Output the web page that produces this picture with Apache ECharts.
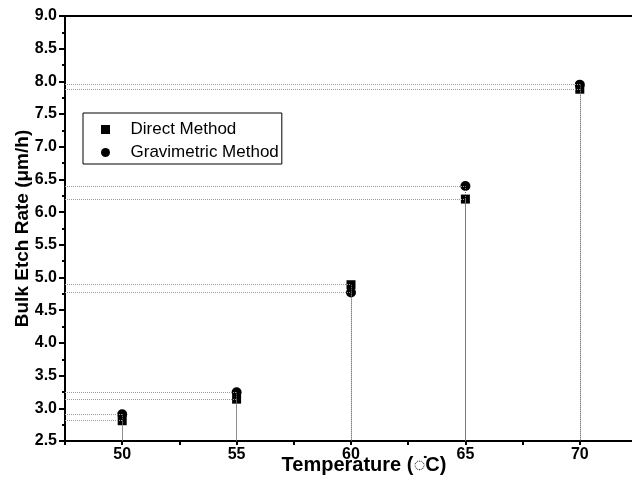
<!DOCTYPE html>
<html><head><meta charset="utf-8">
<script src="https://cdn.jsdelivr.net/npm/echarts@6/dist/echarts.min.js"></script>
<style>html,body{margin:0;padding:0;background:#fff}#c{width:632px;height:485px}</style>
</head><body><div id="c"></div>
<script>
const temperatures = [50, 55, 60, 65, 70];
const directMethod = [2.81, 3.14, 4.89, 6.20, 7.88];
const gravimetricMethod = [2.91, 3.245, 4.77, 6.40, 7.95];
const seriesNames = ['Direct Method', 'Gravimetric Method'];
const xMin = 47.5, xMax = 72.5, yMin = 2.5, yMax = 9.0;

function guides(vals){
  const d = [];
  temperatures.forEach((t,i)=>{
    d.push([{coord:[xMin, vals[i]], lineStyle:{color:'#999'}},{coord:[t, vals[i]]}]);
    d.push([{coord:[t, vals[i]], lineStyle:{color:'#777'}},{coord:[t, yMin]}]);
  });
  return d;
}
const font = 'Liberation Sans, Arial, sans-serif';
const chart = echarts.init(document.getElementById('c'));
chart.setOption({
  animation:false,
  grid:{left:65, top:16, right:-5, bottom:44, outerBoundsMode:'none', containLabel:false,
        show:true, borderColor:'#000', borderWidth:2, backgroundColor:'transparent'},
  legend:{
    orient:'vertical', left:83, top:113, padding:[8,3,3,18],
    borderColor:'#000', borderWidth:1, itemGap:6, itemWidth:40, itemHeight:9,
    symbolKeepAspect:true,
    textStyle:{fontFamily:font, fontSize:17, color:'#000'},
    data:[{name:seriesNames[0], icon:'path://M0,0L10,0L10,10L0,10Z'},
          {name:seriesNames[1], icon:'path://M5,0A5,5,0,1,1,5,10A5,5,0,1,1,5,0Z'}]
  },
  xAxis:{
    type:'value', min:xMin, max:xMax, interval:2.5,
    name:'Temperature (\u25CC\u0307C)', nameLocation:'middle', nameGap:14, nameMoveOverlap:false,
    nameTextStyle:{fontFamily:font, fontSize:20, fontWeight:'bold', color:'#000', padding:[0,0,0,26]},
    axisLine:{lineStyle:{color:'#000', width:2}},
    axisTick:{length:4, lineStyle:{color:'#000', width:2}},
    axisLabel:{fontFamily:font, fontSize:16, fontWeight:'bold', color:'#000', margin:6,
      formatter:v=> (Math.abs(v%5)<1e-6 && v>xMin && v<xMax) ? String(v) : ''},
    splitLine:{show:false}
  },
  yAxis:{
    type:'value', min:yMin, max:yMax, interval:0.5,
    name:'Bulk Etch Rate (\u03BCm/h)', nameLocation:'middle', nameGap:33, nameMoveOverlap:false,
    nameTextStyle:{fontFamily:font, fontSize:19, fontWeight:'bold', color:'#000'},
    axisLine:{lineStyle:{color:'#000', width:2}},
    axisTick:{length:6, lineStyle:{color:'#000', width:2}},
    minorTick:{show:true, splitNumber:2, length:3, lineStyle:{color:'#000', width:2}},
    axisLabel:{fontFamily:font, fontSize:16, fontWeight:'bold', color:'#000', margin:8,
      formatter:v=>v.toFixed(1)},
    splitLine:{show:false}
  },
  series:[
    {name:seriesNames[0], type:'scatter', symbol:'rect', symbolSize:9,
     itemStyle:{color:'#000', opacity:1}, z:3,
     data:temperatures.map((t,i)=>[t, directMethod[i]]),
     markLine:{silent:true, symbol:'none', label:{show:false},
       lineStyle:{color:'#888', type:'dotted', width:1}, data:guides(directMethod)}},
    {name:seriesNames[1], type:'scatter', symbol:'circle', symbolSize:10,
     itemStyle:{color:'#000', opacity:1}, z:4,
     data:temperatures.map((t,i)=>[t, gravimetricMethod[i]]),
     markLine:{silent:true, symbol:'none', label:{show:false},
       lineStyle:{color:'#888', type:'dotted', width:1}, data:guides(gravimetricMethod)}}
  ]
});
</script></body></html>
